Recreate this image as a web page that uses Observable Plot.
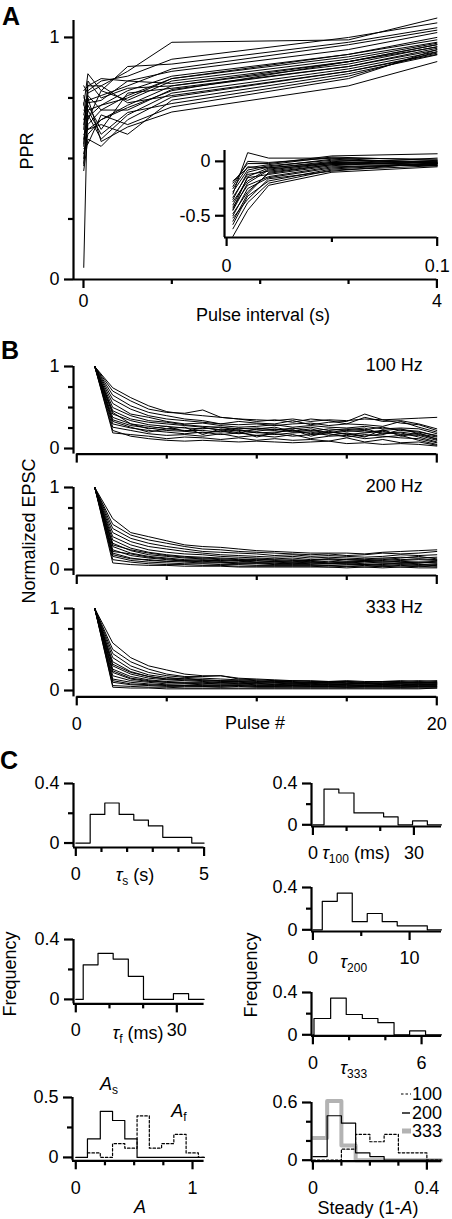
<!DOCTYPE html>
<html><head><meta charset="utf-8">
<script src="https://cdn.jsdelivr.net/npm/d3@7"></script>
<script src="https://cdn.jsdelivr.net/npm/@observablehq/plot@0.6"></script>
<style>
body{margin:0;background:#fff;}
#fig{position:relative;width:452px;height:1219px;overflow:hidden;font-family:"Liberation Sans",Arial,Helvetica,sans-serif;color:#000;background:#fff;}
.lbl{position:absolute;font-size:18px;line-height:18px;white-space:nowrap;}
.c{transform:translate(-50%,-50%);}
.r{transform:translate(-100%,-50%);}
.rot{transform:translate(-50%,-50%) rotate(-90deg);}
.big{font-weight:bold;font-size:25px;line-height:25px;}
sub{font-size:12px;vertical-align:-4px;line-height:0;}
</style></head><body><div id="fig"></div><script>
// ---------------- DATA ----------------
// Panel A: paired-pulse ratio vs pulse interval (s)
const pprIntervals = [0.003, 0.05, 0.2, 0.5, 1, 3, 4];
const pprTraces = [
  [0.62, 0.80, 0.80, 0.86, 0.98, 0.99, 1.08],
  [0.05, 0.78, 0.82, 0.84, 0.91, 1.00, 1.06],
  [0.72, 0.85, 0.78, 0.88, 0.89, 0.98, 1.04],
  [0.55, 0.74, 0.76, 0.80, 0.87, 0.97, 1.03],
  [0.78, 0.80, 0.83, 0.82, 0.86, 0.95, 1.02],
  [0.50, 0.70, 0.72, 0.78, 0.84, 0.93, 1.00],
  [0.68, 0.76, 0.70, 0.76, 0.83, 0.92, 0.98],
  [0.58, 0.66, 0.78, 0.74, 0.82, 0.91, 0.976],
  [0.75, 0.73, 0.74, 0.82, 0.81, 0.90, 0.97],
  [0.52, 0.60, 0.66, 0.72, 0.80, 0.89, 0.962],
  [0.66, 0.72, 0.62, 0.77, 0.79, 0.88, 0.955],
  [0.48, 0.64, 0.70, 0.70, 0.785, 0.88, 0.948],
  [0.70, 0.68, 0.58, 0.68, 0.77, 0.87, 0.941],
  [0.45, 0.58, 0.55, 0.66, 0.754, 0.86, 0.935],
  [0.60, 0.62, 0.64, 0.60, 0.741, 0.85, 0.928],
  [0.76, 0.70, 0.60, 0.69, 0.727, 0.84, 0.94],
  [0.54, 0.56, 0.68, 0.64, 0.713, 0.83, 0.95],
  [0.64, 0.75, 0.57, 0.63, 0.692, 0.80, 0.90],
  [0.56, 0.82, 0.75, 0.79, 0.80, 0.90, 0.96],
  [0.80, 0.77, 0.80, 0.73, 0.76, 0.86, 0.93],
  [0.47, 0.67, 0.72, 0.75, 0.83, 0.93, 0.99],
  [0.73, 0.62, 0.66, 0.71, 0.78, 0.90, 0.97]
];
// Panel A inset
const insetIntervals = [0.003, 0.01, 0.02, 0.05, 0.1];
const insetTraces = [
  [-0.30, 0.08, 0.03, 0.03, 0.02],
  [-0.20, -0.02, -0.02, 0.05, 0.07],
  [-0.35, -0.10, -0.05, 0.02, -0.02],
  [-0.45, -0.20, -0.08, -0.01, 0.00],
  [-0.55, -0.30, -0.10, -0.03, -0.01],
  [-0.25, -0.05, -0.06, 0.00, -0.03],
  [-0.40, -0.15, -0.12, -0.04, 0.01],
  [-0.50, -0.25, -0.15, -0.06, -0.02],
  [-0.62, -0.38, -0.20, -0.08, -0.04],
  [-0.69, -0.45, -0.22, -0.10, -0.05],
  [-0.33, -0.12, -0.09, -0.02, -0.01],
  [-0.28, -0.08, -0.04, 0.01, 0.00],
  [-0.42, -0.22, -0.14, -0.05, -0.03],
  [-0.58, -0.32, -0.18, -0.07, -0.02],
  [-0.18, -0.06, -0.03, 0.04, 0.01],
  [-0.48, -0.28, -0.11, -0.03, -0.04],
  [-0.37, -0.18, -0.07, -0.02, 0.03],
  [-0.52, -0.35, -0.16, -0.09, -0.01],
  [-0.23, 0.00, -0.01, 0.03, -0.02],
  [-0.44, -0.14, -0.06, -0.01, -0.04]
];
// Panel B: normalized EPSC vs pulse number
const pulseNumbers = [1,2,3,4,5,6,7,8,9,10,11,12,13,14,15,16,17,18,19,20];
const epsc100 = [
  [1,.74,.62,.52,.45,.42,.40,.38,.36,.35,.34,.36,.33,.35,.34,.36,.35,.36,.37,.38],
  [1,.70,.58,.48,.44,.43,.47,.38,.36,.33,.35,.32,.36,.34,.30,.38,.33,.34,.30,.24],
  [1,.65,.52,.44,.40,.36,.34,.30,.33,.31,.30,.34,.29,.32,.33,.42,.35,.31,.29,.22],
  [1,.60,.48,.40,.36,.34,.32,.30,.29,.30,.28,.30,.31,.28,.30,.29,.27,.33,.26,.20],
  [1,.55,.42,.38,.33,.30,.31,.28,.26,.27,.29,.26,.28,.26,.25,.27,.24,.25,.24,.18],
  [1,.50,.40,.34,.32,.29,.27,.26,.24,.25,.23,.24,.26,.22,.24,.23,.26,.22,.20,.16],
  [1,.46,.36,.32,.30,.28,.26,.22,.25,.23,.22,.25,.21,.24,.22,.20,.22,.24,.18,.14],
  [1,.42,.34,.29,.27,.25,.24,.26,.22,.21,.24,.20,.22,.19,.21,.22,.19,.20,.17,.12],
  [1,.38,.30,.27,.24,.22,.22,.20,.23,.19,.20,.22,.18,.21,.17,.19,.21,.17,.16,.10],
  [1,.35,.28,.25,.22,.21,.19,.21,.18,.20,.17,.19,.20,.16,.19,.15,.18,.19,.14,.08],
  [1,.30,.25,.22,.20,.18,.20,.17,.19,.16,.18,.15,.17,.18,.14,.17,.15,.13,.12,.07],
  [1,.26,.22,.18,.16,.17,.15,.18,.14,.16,.14,.17,.12,.15,.16,.12,.14,.16,.10,.05],
  [1,.19,.17,.15,.12,.14,.13,.11,.13,.10,.12,.10,.11,.09,.13,.08,.11,.07,.08,.04],
  [1,.22,.15,.12,.10,.09,.10,.09,.08,.09,.08,.07,.08,.09,.06,.07,.05,.06,.05,.03],
  [1,.44,.30,.24,.27,.21,.25,.23,.19,.24,.26,.21,.24,.19,.23,.25,.17,.23,.21,.15],
  [1,.33,.26,.20,.24,.26,.17,.24,.21,.14,.19,.23,.15,.20,.18,.14,.23,.15,.19,.11]
];
const epsc200 = [
  [1,.62,.45,.40,.35,.30,.28,.27,.25,.23,.22,.21,.20,.20,.20,.19,.21,.22,.23,.24],
  [1,.55,.42,.36,.32,.28,.25,.24,.22,.21,.20,.19,.18,.19,.17,.18,.20,.19,.20,.22],
  [1,.50,.38,.32,.28,.25,.22,.21,.20,.19,.17,.18,.16,.17,.16,.15,.16,.18,.17,.18],
  [1,.45,.34,.28,.25,.22,.20,.18,.17,.16,.15,.16,.14,.15,.14,.13,.14,.15,.14,.15],
  [1,.40,.30,.24,.21,.19,.18,.16,.15,.14,.13,.14,.12,.13,.12,.12,.13,.12,.13,.12],
  [1,.36,.26,.21,.18,.16,.15,.14,.13,.12,.12,.11,.11,.12,.10,.11,.10,.11,.12,.11],
  [1,.32,.23,.18,.16,.14,.13,.12,.11,.11,.10,.10,.09,.10,.09,.10,.09,.10,.09,.10],
  [1,.28,.20,.16,.14,.12,.11,.11,.10,.09,.09,.08,.09,.08,.08,.09,.08,.08,.09,.08],
  [1,.24,.17,.14,.12,.10,.10,.09,.08,.08,.07,.08,.07,.07,.07,.06,.07,.07,.06,.07],
  [1,.20,.14,.11,.10,.09,.08,.08,.07,.07,.06,.06,.06,.05,.06,.06,.05,.06,.05,.06],
  [1,.16,.11,.09,.08,.07,.07,.06,.06,.05,.05,.05,.05,.05,.04,.05,.04,.05,.04,.05],
  [1,.12,.09,.07,.06,.06,.05,.05,.04,.04,.04,.04,.04,.03,.04,.03,.04,.03,.04,.03],
  [1,.08,.06,.05,.05,.04,.04,.04,.03,.03,.03,.03,.03,.03,.02,.03,.02,.03,.02,.02],
  [1,.30,.24,.20,.17,.15,.14,.13,.12,.13,.11,.12,.11,.13,.12,.11,.12,.14,.16,.13],
  [1,.22,.19,.15,.13,.11,.12,.10,.11,.09,.10,.09,.10,.08,.09,.10,.11,.09,.08,.09],
  [1,.18,.13,.12,.10,.11,.09,.09,.08,.08,.08,.07,.08,.07,.08,.07,.06,.08,.07,.04]
];
const epsc333 = [
  [1,.58,.40,.30,.25,.20,.18,.18,.15,.14,.13,.12,.12,.11,.12,.11,.11,.12,.11,.12],
  [1,.50,.35,.26,.20,.17,.17,.18,.14,.13,.12,.12,.11,.11,.11,.10,.11,.11,.12,.11],
  [1,.45,.30,.22,.18,.16,.15,.14,.13,.12,.11,.11,.10,.10,.11,.10,.10,.10,.10,.10],
  [1,.40,.26,.19,.16,.14,.13,.12,.12,.11,.10,.10,.10,.09,.10,.09,.09,.09,.10,.09],
  [1,.35,.23,.17,.14,.13,.12,.11,.11,.10,.10,.09,.09,.09,.09,.09,.08,.09,.09,.09],
  [1,.30,.20,.15,.13,.12,.11,.10,.10,.09,.09,.08,.08,.08,.08,.08,.08,.08,.08,.08],
  [1,.26,.17,.13,.11,.10,.10,.09,.09,.08,.08,.08,.07,.08,.07,.07,.07,.07,.08,.07],
  [1,.22,.14,.11,.10,.09,.09,.08,.08,.07,.07,.07,.07,.07,.07,.06,.07,.06,.07,.07],
  [1,.18,.12,.10,.08,.08,.07,.07,.07,.06,.06,.06,.06,.06,.06,.06,.06,.06,.06,.06],
  [1,.14,.10,.08,.07,.06,.06,.06,.06,.05,.05,.05,.05,.05,.05,.05,.05,.05,.05,.05],
  [1,.10,.07,.06,.05,.05,.05,.04,.05,.04,.04,.04,.04,.04,.04,.04,.04,.04,.04,.04],
  [1,.06,.05,.04,.04,.03,.03,.03,.03,.03,.03,.03,.03,.03,.03,.03,.03,.03,.03,.03],
  [1,.04,.03,.03,.02,.02,.02,.02,.02,.02,.02,.02,.02,.02,.02,.02,.02,.02,.02,.03],
  [1,.32,.22,.17,.14,.15,.13,.12,.11,.10,.12,.10,.09,.10,.09,.08,.09,.10,.09,.10],
  [1,.24,.15,.12,.10,.09,.08,.10,.08,.09,.07,.08,.09,.07,.08,.09,.07,.08,.07,.08],
  [1,.12,.08,.07,.06,.06,.05,.05,.06,.05,.05,.06,.05,.05,.04,.05,.05,.04,.05,.05]
];
// Panel C: histograms (bin edges, frequency per bin)
const tauSEdges = [0, 0.56, 1.13, 1.69, 2.26, 2.83, 3.39, 3.96, 4.52, 5.0];
const tauSFreq  = [0, 0.192, 0.269, 0.192, 0.154, 0.115, 0.038, 0.038, 0];
const tauFEdges = [0, 2.2, 6.6, 11.1, 15.6, 20.1, 24.5, 29.0, 33.5, 38.1];
const tauFFreq  = [0, 0.231, 0.308, 0.269, 0.154, 0, 0, 0.038, 0];
const aSEdges = [0, 0.1, 0.21, 0.315, 0.42, 0.525, 1.1];
const aSFreq  = [0, 0.154, 0.385, 0.308, 0.154, 0];
const aFEdges = [0.1, 0.21, 0.315, 0.42, 0.525, 0.63, 0.735, 0.84, 0.945, 1.05, 1.1];
const aFFreq  = [0.038, 0, 0.115, 0.077, 0.346, 0.077, 0.115, 0.192, 0.038, 0];
const tau100Edges = [0, 3.3, 7.7, 12.2, 16.6, 21.0, 25.3, 29.6, 34.0, 38.2];
const tau100Freq  = [0, 0.346, 0.308, 0.115, 0.115, 0.077, 0, 0.038, 0];
const tau200Edges = [0, 0.97, 2.52, 4.07, 5.62, 7.17, 8.72, 10.28, 11.83, 13.3];
const tau200Freq  = [0, 0.269, 0.346, 0.077, 0.154, 0.077, 0.038, 0.038, 0];
const tau333Edges = [0, 0.06, 0.98, 1.84, 2.73, 3.59, 4.48, 5.34, 6.22, 7.1];
const tau333Freq  = [0, 0.154, 0.346, 0.192, 0.154, 0.115, 0, 0.038, 0];
const steadyEdges = [0, 0.05, 0.1, 0.15, 0.2, 0.25, 0.3, 0.35, 0.4, 0.45];
const steady100 = [0, 0, 0.115, 0.269, 0.192, 0.269, 0.077, 0.077, 0];
const steady200 = [0.038, 0.462, 0.385, 0.077, 0.038, 0, 0, 0, 0];
const steady333 = [0.231, 0.615, 0.154, 0, 0, 0, 0, 0, 0];
const steadyLegend = ["100", "200", "333"];

// ---------------- HELPERS ----------------
const FONT = '"Liberation Sans", Arial, Helvetica, sans-serif';
const fig = document.getElementById("fig");

function longTraces(xs, traces) {
  const out = [];
  traces.forEach((t, k) => t.forEach((v, i) => out.push({id: k, x: xs[i], y: v})));
  return out;
}
function steps(edges, freq) {
  const pts = freq.map((f, i) => ({x: edges[i], y: f}));
  pts.push({x: edges[edges.length - 1], y: freq[freq.length - 1]});
  return pts;
}
function traceLines(xs, traces) {
  return Plot.line(longTraces(xs, traces), {x: "x", y: "y", z: "id", stroke: "black", strokeWidth: 1, strokeLinejoin: "miter"});
}
function hist(edges, freq, opts = {}) {
  return Plot.line(steps(edges, freq), {x: "x", y: "y", curve: "step-after", stroke: "black", strokeWidth: 1.2, ...opts});
}

function panel(s) {
  const mL = 60, mR = 24, mT = 10, mB = 46;
  const w = s.fx1 - s.fx0, h = s.fy1 - s.fy0;
  const xStart = s.xAxisStart ?? s.xDomain[0];
  const marks = [
    ...s.marks,
    Plot.ruleX([s.xDomain[0]], {y1: s.yDomain[0], y2: s.yDomain[1], stroke: "black", strokeWidth: 2.2}),
    Plot.ruleY([s.yDomain[0]], {x1: xStart, x2: s.xDomain[1], stroke: "black", strokeWidth: 2.2}),
    Plot.axisY(s.yMajor, {anchor: "left", tickSize: 9, tickPadding: s.yPad ?? 5, strokeWidth: 2.2, label: null,
      tickFormat: d => s.yLabels[s.yMajor.indexOf(d)]}),
    Plot.axisY(s.yMinor, {anchor: "left", tickSize: 5, strokeWidth: 2.2, label: null, tickFormat: () => ""}),
    Plot.axisX(s.xMajor, {anchor: "bottom", tickSize: 9, tickPadding: s.xPad ?? 11, strokeWidth: 2.2, label: null,
      tickFormat: d => s.xLabels ? s.xLabels[s.xMajor.indexOf(d)] : ""}),
    Plot.axisX(s.xMinor, {anchor: "bottom", tickSize: 5, strokeWidth: 2.2, label: null, tickFormat: () => ""})
  ];
  const svg = Plot.plot({
    width: mL + w + mR, height: mT + h + mB,
    marginLeft: mL, marginRight: mR, marginTop: mT, marginBottom: mB,
    x: {domain: s.xDomain, axis: null}, y: {domain: s.yDomain, axis: null},
    style: {background: "transparent", overflow: "visible", fontSize: "18px", fontFamily: FONT, maxWidth: "none", color: "black"},
    marks
  });
  const div = document.createElement("div");
  div.style.cssText = `position:absolute;left:${s.fx0 - mL}px;top:${s.fy0 - mT}px;`;
  div.appendChild(svg);
  fig.appendChild(div);
}

function label(html, x, y, cls = "c", extra = "") {
  const d = document.createElement("div");
  d.className = "lbl " + cls;
  d.style.cssText = `left:${x}px;top:${y}px;` + extra;
  d.innerHTML = html;
  fig.appendChild(d);
}

// ---------------- PANEL A ----------------
panel({fx0: 73.3, fx1: 436.7, fy0: 20, fy1: 279, xDomain: [-0.113, 4], yDomain: [0, 1.07],
  xMajor: [0, 4], xLabels: ["0", "4"], xMinor: [1, 2, 3], xPad: 6,
  yMajor: [0, 1], yLabels: ["0", "1"], yMinor: [0.25, 0.5, 0.75],
  marks: [traceLines(pprIntervals, pprTraces)]});
panel({fx0: 224, fx1: 436.7, fy0: 150, fy1: 237, xDomain: [-0.001, 0.1], yDomain: [-0.70, 0.10],
  xMajor: [0, 0.1], xLabels: ["0", "0.1"], xMinor: [0.05], xPad: 13,
  yMajor: [-0.5, 0], yLabels: ["-0.5", "0"], yMinor: [-0.25],
  marks: [traceLines(insetIntervals, insetTraces)]});
label("A", 11, 16, "c big");
label("PPR", 27, 151, "rot");
label("Pulse interval (s)", 263, 315);

// ---------------- PANEL B ----------------
const bPanels = [[epsc100, 365.7, 453.3, -0.068], [epsc200, 487, 575, -0.073], [epsc333, 608.3, 696.7, -0.078]];
bPanels.forEach(([data, top, bottom, ymin], i) => {
  panel({fx0: 72.7, fx1: 436, fy0: top, fy1: bottom, xDomain: [-0.18, 20], yDomain: [ymin, 1],
    xAxisStart: 0,
    xMajor: [0, 20], xLabels: i === 2 ? ["0", "20"] : null, xMinor: [5, 10, 15],
    yMajor: [0, 1], yLabels: ["0", "1"], yMinor: [0.25, 0.5, 0.75],
    marks: [traceLines(pulseNumbers, data)]});
});
label("B", 10, 350, "c big");
label("100 Hz", 422.7, 365, "r");
label("200 Hz", 422.7, 486, "r");
label("333 Hz", 422.7, 607, "r");
label("Normalized EPSC", 29, 531, "rot");
label("Pulse #", 255, 723);

// ---------------- PANEL C ----------------
panel({fx0: 72.7, fx1: 203.3, fy0: 782.7, fy1: 846.7, xDomain: [-0.09, 5], yDomain: [-0.03, 0.4],
  xMajor: [0, 5], xLabels: ["0", "5"], xMinor: [1, 2, 3, 4],
  yMajor: [0, 0.4], yLabels: ["0", "0.4"], yMinor: [0.2],
  marks: [hist(tauSEdges, tauSFreq)]});
panel({fx0: 72.7, fx1: 203.3, fy0: 939.3, fy1: 1003.7, xDomain: [-0.68, 38.1], yDomain: [-0.03, 0.4],
  xMajor: [0, 30], xLabels: ["0", "30"], xMinor: [10, 20], xPad: 10,
  yMajor: [0, 0.4], yLabels: ["0", "0.4"], yMinor: [0.2],
  marks: [hist(tauFEdges, tauFFreq)]});
panel({fx0: 71.7, fx1: 203.3, fy0: 1096.7, fy1: 1160, xDomain: [-0.028, 1.099], yDomain: [-0.028, 0.5],
  xMajor: [0, 1], xLabels: ["0", "1"], xMinor: [0.25, 0.5, 0.75],
  yMajor: [0, 0.5], yLabels: ["0", "0.5"], yMinor: [0.25],
  marks: [hist(aFEdges, aFFreq, {strokeDasharray: "2.5,2"}), hist(aSEdges, aSFreq)]});
panel({fx0: 311.3, fx1: 441.3, fy0: 782.7, fy1: 825.7, xDomain: [-0.42, 38.2], yDomain: [-0.0165, 0.4],
  xMajor: [0, 30], xLabels: ["0", "30"], xMinor: [10, 20],
  yMajor: [0, 0.4], yLabels: ["0", "0.4"], yMinor: [0.2],
  marks: [hist(tau100Edges, tau100Freq)]});
panel({fx0: 311.3, fx1: 441.3, fy0: 886.7, fy1: 930.7, xDomain: [-0.145, 13.3], yDomain: [-0.016, 0.4],
  xMajor: [0, 10], xLabels: ["0", "10"], xMinor: [5],
  yMajor: [0, 0.4], yLabels: ["0", "0.4"], yMinor: [0.2],
  marks: [hist(tau200Edges, tau200Freq)]});
panel({fx0: 311.3, fx1: 441.3, fy0: 991.7, fy1: 1035, xDomain: [-0.077, 7.1], yDomain: [-0.0095, 0.4],
  xMajor: [0, 6], xLabels: ["0", "6"], xMinor: [2, 4],
  yMajor: [0, 0.4], yLabels: ["0", "0.4"], yMinor: [0.2],
  marks: [hist(tau333Edges, tau333Freq)]});
panel({fx0: 311.3, fx1: 441.3, fy0: 1102.3, fy1: 1161, xDomain: [-0.0049, 0.4513], yDomain: [-0.0104, 0.6],
  xMajor: [0, 0.4], xLabels: ["0", "0.4"], xMinor: [0.1, 0.2, 0.3],
  yMajor: [0, 0.6], yLabels: ["0", "0.6"], yMinor: [0.2, 0.4],
  marks: [hist(steadyEdges, steady333, {stroke: "#b3b3b3", strokeWidth: 4}),
          hist(steadyEdges, steady100, {strokeDasharray: "2.5,2"}),
          hist(steadyEdges, steady200)]});

label("C", 9, 760, "c big");
label('<i>τ</i><sub>s</sub> (s)', 135, 875);
label("Frequency", 10, 974, "rot");
label('<i>τ</i><sub>f</sub> (ms)', 138, 1033);
label('<i>A</i>', 140, 1207);
label('<i>A</i><sub>s</sub>', 109, 1084);
label('<i>A</i><sub>f</sub>', 179, 1111);
label('<i>τ</i><sub>100</sub> (ms)', 356, 853);
label('<i>τ</i><sub>200</sub>', 353.7, 962);
label('<i>τ</i><sub>333</sub>', 353.7, 1068);
label("Frequency", 251, 975, "rot");
label('Steady (1-<i>A</i>)', 368, 1208);

// legend for steady-state histogram
const legendSwatches = [
  '<line x1="0" x2="10" y1="5" y2="5" stroke="#000" stroke-width="1.2" stroke-dasharray="2.5,2"/>',
  '<line x1="1" x2="9" y1="5" y2="5" stroke="#000" stroke-width="1.4"/>',
  '<line x1="1" x2="10" y1="5" y2="5" stroke="#b3b3b3" stroke-width="5"/>'
];
steadyLegend.forEach((name, i) => {
  const y = 1094.3 + i * 18.3;
  const sw = document.createElement("div");
  sw.style.cssText = `position:absolute;left:401px;top:${y - 5}px;width:11px;height:10px;`;
  sw.innerHTML = `<svg width="11" height="10" style="display:block">${legendSwatches[i]}</svg>`;
  fig.appendChild(sw);
  label(name, 412, y, "", "transform:translate(0,-50%);");
});
</script></body></html>
